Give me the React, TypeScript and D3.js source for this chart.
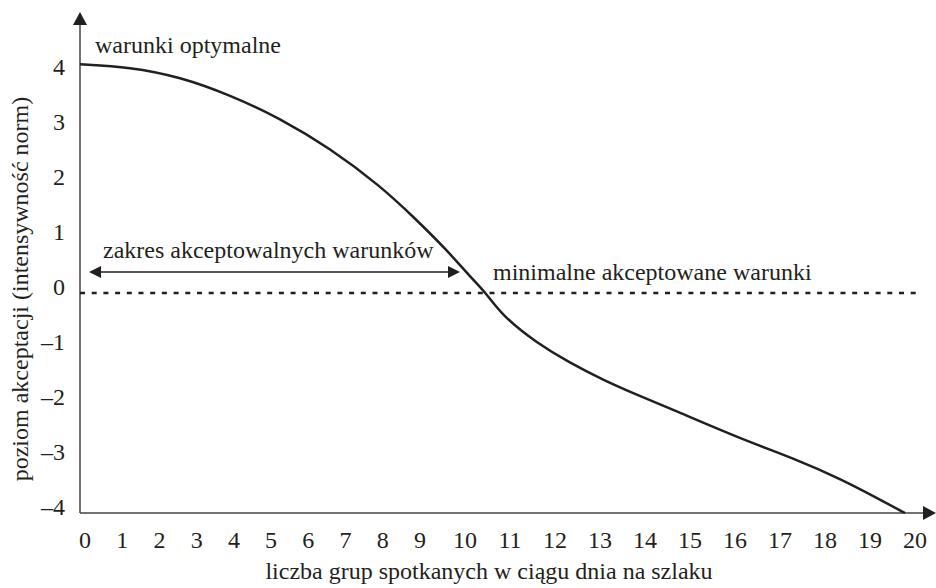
import { useEffect, useRef } from 'react';
import * as d3 from 'd3';

const xTicks = [0, 1, 2, 3, 4, 5, 6, 7, 8, 9, 10, 11, 12, 13, 14, 15, 16, 17, 18, 19, 20];
const yTicks = [4, 3, 2, 1, 0, -1, -2, -3, -4];

// acceptance curve
const groups = [0, 1.34, 2.69, 4.03, 5.37, 6.72, 8.06, 8.95, 9.71, 10.22, 10.58, 10.96, 11.71, 12.44, 13.18, 13.93, 14.67, 16.29, 17.4, 18.51, 19.27, 19.89];
const acceptance = [4.16, 4.11, 3.93, 3.6, 3.18, 2.63, 1.95, 1.39, 0.78, 0.3, 0, -0.43, -0.91, -1.27, -1.58, -1.85, -2.1, -2.67, -3.0, -3.4, -3.73, -4.0];

const minimumLevel = 0;
const rangeStart = 0;
const rangeEnd = 9.8;

const xTitle = 'liczba grup spotkanych w ciągu dnia na szlaku';
const yTitle = 'poziom akceptacji (intensywność norm)';
const optimalLabel = 'warunki optymalne';
const rangeLabel = 'zakres akceptowalnych warunków';
const minimumLabel = 'minimalne akceptowane warunki';

const width = 936;
const height = 588;
const font = "Tinos, 'Liberation Serif', 'DejaVu Serif', serif";
const ink = '#231f20';

const App = () => {
  const svgRef = useRef<SVGSVGElement>(null);

  useEffect(() => {
    if (!svgRef.current) return;

    const svg = d3.select(svgRef.current);
    svg.selectAll('*').remove();

    // the printed tick labels are spaced unevenly (two-digit numbers wider)
    const x = d3.scaleLinear().domain([0, 9, 10, 20]).range([80, 415, 460, 910]);
    const y = d3.scaleLinear().domain([-4, 4]).range([513, 73]);

    const axisX0 = 80;
    const axisY0 = 513;

    // axes with arrow heads
    svg.append('line')
      .attr('x1', axisX0).attr('x2', axisX0)
      .attr('y1', axisY0).attr('y2', 24)
      .attr('stroke', '#444').attr('stroke-width', 1.5);
    svg.append('path')
      .attr('d', `M${axisX0},12 L${axisX0 - 7},25 L${axisX0 + 7},25 Z`)
      .attr('fill', ink);

    svg.append('line')
      .attr('x1', axisX0).attr('x2', 925)
      .attr('y1', axisY0).attr('y2', axisY0)
      .attr('stroke', '#444').attr('stroke-width', 1.5);
    svg.append('path')
      .attr('d', `M936,${axisY0} L923,${axisY0 - 7} L923,${axisY0 + 7} Z`)
      .attr('fill', ink);

    const text = (g: d3.Selection<any, any, any, any>) =>
      g.style('font-family', font).style('font-size', '24px').attr('fill', ink);

    // y tick labels
    svg.append('g')
      .selectAll('text')
      .data(yTicks)
      .enter().append('text')
      .call(text)
      .attr('x', 65)
      .attr('y', d => y(d) + 2)
      .attr('text-anchor', 'end')
      .text(d => (d < 0 ? `–${-d}` : `${d}`));

    // x tick labels
    svg.append('g')
      .selectAll('text')
      .data(xTicks)
      .enter().append('text')
      .call(text)
      .attr('x', d => x(d) + 5)
      .attr('y', 548)
      .attr('text-anchor', 'middle')
      .text(d => `${d}`);

    // axis titles
    svg.append('text')
      .call(text)
      .attr('x', 489)
      .attr('y', 579)
      .attr('text-anchor', 'middle')
      .text(xTitle);

    svg.append('text')
      .call(text)
      .attr('transform', 'translate(28,289) rotate(-90)')
      .attr('text-anchor', 'middle')
      .text(yTitle);

    // minimum acceptable level
    svg.append('line')
      .attr('x1', axisX0).attr('x2', 922)
      .attr('y1', y(minimumLevel)).attr('y2', y(minimumLevel))
      .attr('stroke', ink)
      .attr('stroke-width', 2.5)
      .attr('stroke-dasharray', '5,6.7');

    // range of acceptable conditions (double arrow)
    const arrowY = y(minimumLevel) - 21;
    const ax1 = x(rangeStart) + 9;
    const ax2 = x(rangeEnd) + 9;
    svg.append('line')
      .attr('x1', ax1 + 10).attr('x2', ax2 - 10)
      .attr('y1', arrowY).attr('y2', arrowY)
      .attr('stroke', ink).attr('stroke-width', 1.5);
    svg.append('path')
      .attr('d', `M${ax1},${arrowY} L${ax1 + 12},${arrowY - 6} L${ax1 + 12},${arrowY + 6} Z`)
      .attr('fill', ink);
    svg.append('path')
      .attr('d', `M${ax2},${arrowY} L${ax2 - 12},${arrowY - 6} L${ax2 - 12},${arrowY + 6} Z`)
      .attr('fill', ink);

    // curve (basis smooths the hand-read points)
    const line = d3.line<number>()
      .x((_, i) => x(groups[i]))
      .y(d => y(d))
      .curve(d3.curveBasis);

    svg.append('path')
      .datum(acceptance)
      .attr('d', line)
      .attr('fill', 'none')
      .attr('stroke', ink)
      .attr('stroke-width', 2.5);

    // annotations
    svg.append('text').call(text).attr('x', 95).attr('y', 53).text(optimalLabel);
    svg.append('text').call(text).attr('x', 103).attr('y', 258).text(rangeLabel);
    svg.append('text').call(text).attr('x', 493).attr('y', 280).text(minimumLabel);
  }, []);

  return (
    <svg
      ref={svgRef}
      width={width}
      height={height}
      style={{ position: 'absolute', left: 0, top: 0, background: '#fff' }}
    />
  );
};

export default App;
